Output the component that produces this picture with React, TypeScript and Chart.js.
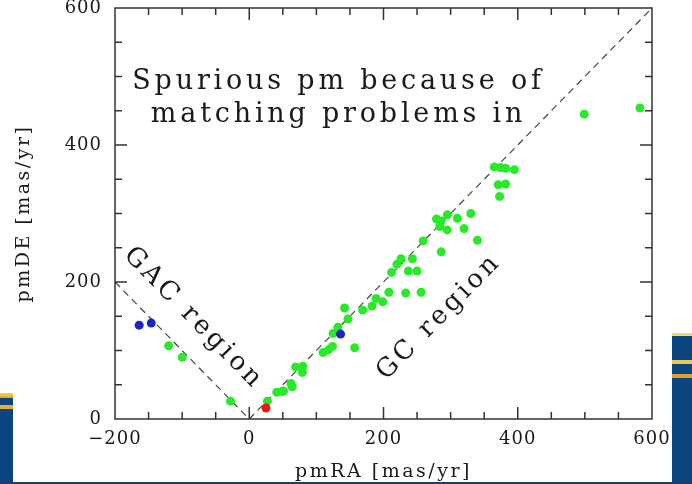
import React, { useEffect, useRef } from "react";
import { Chart, registerables } from "chart.js";

Chart.register(...registerables);

// ---- data ----
const X_MIN = -200;
const X_MAX = 600;
const Y_MIN = 0;
const Y_MAX = 600;
const MAJOR_STEP = 200;
const MINOR_STEP = 50;

const xTickValues = [-200, 0, 200, 400, 600];
const yTickValues = [0, 200, 400, 600];

const xTitle = "pmRA [mas/yr]";
const yTitle = "pmDE [mas/yr]";

const greenPoints: [number, number][] = [
  [-120, 107], [-100, 90], [-28, 26],
  [27, 26], [41, 39], [49, 40], [51, 41], [62, 52], [64, 47],
  [69, 76], [80, 77], [79, 68], [110, 97], [118, 101], [124, 106],
  [125, 125], [132, 134], [142, 162], [147, 146], [157, 104],
  [169, 159], [183, 165], [189, 176], [199, 171], [208, 185],
  [212, 214], [220, 226], [226, 234], [233, 184], [237, 216],
  [243, 234], [250, 216], [256, 185], [259, 260], [279, 292],
  [286, 289], [284, 281], [286, 244], [295, 298], [295, 276],
  [310, 293], [320, 278], [330, 300], [340, 261], [365, 368],
  [374, 367], [382, 366], [395, 364], [371, 342], [382, 343],
  [373, 325], [499, 445], [582, 454],
];
const bluePoints: [number, number][] = [[-164, 137], [-146, 140], [136, 124]];
const redPoints: [number, number][] = [[25, 16]];

const gacLine: [number, number][] = [[-200, 200], [0, 0]];
const gcLine: [number, number][] = [[0, 0], [600, 600]];

const noteLines = ["Spurious pm because of", "matching problems in"];
const noteX = 133;
const noteBaselines = [482, 434];
const gacLabel = { text: "GAC region", x: -83, y: 147 };
const gcLabel = { text: "GC region", x: 283, y: 149 };

// ---- styles ----
const FONT = "'DejaVu Serif', serif";
const INK = "#1a1a1a";
const FRAME = "#333333";

const toXY = (arr: [number, number][]) => arr.map(([x, y]) => ({ x, y }));
const fmt = (v: number) => (v < 0 ? "\u2212" + Math.abs(v) : String(v));

const framePlugin = {
  id: "frame",
  beforeDraw(chart: any) {
    chart.ctx.letterSpacing = "2.5px";
  },
  beforeDatasetsDraw(chart: any) {
    chart.ctx.letterSpacing = "0px";
  },
  afterDatasetsDraw(chart: any) {
    chart.ctx.letterSpacing = "1px";
  },
  afterDraw(chart: any) {
    const { ctx, chartArea: a, scales } = chart;
    const xs = scales.x;
    const ys = scales.y;
    ctx.save();
    ctx.letterSpacing = "0px";
    ctx.strokeStyle = FRAME;
    ctx.lineWidth = 1.5;
    ctx.beginPath();
    ctx.rect(a.left, a.top, a.right - a.left, a.bottom - a.top);
    for (let v = X_MIN; v <= X_MAX; v += MINOR_STEP) {
      const p = xs.getPixelForValue(v);
      const len = v % MAJOR_STEP === 0 ? 12 : 7;
      ctx.moveTo(p, a.bottom);
      ctx.lineTo(p, a.bottom - len);
      ctx.moveTo(p, a.top);
      ctx.lineTo(p, a.top + len);
    }
    for (let v = Y_MIN; v <= Y_MAX; v += MINOR_STEP) {
      const p = ys.getPixelForValue(v);
      const len = v % MAJOR_STEP === 0 ? 12 : 7;
      ctx.moveTo(a.left, p);
      ctx.lineTo(a.left + len, p);
      ctx.moveTo(a.right, p);
      ctx.lineTo(a.right - len, p);
    }
    ctx.stroke();

    ctx.fillStyle = INK;
    ctx.font = `27px ${FONT}`;
    ctx.letterSpacing = "3.8px";
    ctx.textAlign = "center";
    ctx.textBaseline = "alphabetic";
    noteLines.forEach((t, i) => {
      ctx.fillText(t, xs.getPixelForValue(noteX), ys.getPixelForValue(noteBaselines[i]));
    });

    ctx.font = `26px ${FONT}`;
    ctx.letterSpacing = "3.5px";
    const drawRot = (lab: { text: string; x: number; y: number }, line: [number, number][]) => {
      const dx = xs.getPixelForValue(line[1][0]) - xs.getPixelForValue(line[0][0]);
      const dy = ys.getPixelForValue(line[1][1]) - ys.getPixelForValue(line[0][1]);
      ctx.save();
      ctx.translate(xs.getPixelForValue(lab.x), ys.getPixelForValue(lab.y));
      ctx.rotate(Math.atan2(dy, dx));
      ctx.textBaseline = "middle";
      ctx.fillText(lab.text, 0, 0);
      ctx.restore();
    };
    drawRot(gacLabel, gacLine);
    drawRot(gcLabel, gcLine);
    ctx.restore();
  },
};

export default function App() {
  const ref = useRef<HTMLCanvasElement>(null);
  useEffect(() => {
    const pointDs = (data: [number, number][], color: string) => ({
      type: "scatter" as const,
      data: toXY(data),
      backgroundColor: color,
      borderWidth: 0,
      pointRadius: 4.5,
      pointHoverRadius: 4.5,
    });
    const lineDs = (data: [number, number][]) => ({
      type: "scatter" as const,
      data: toXY(data),
      showLine: true,
      borderColor: "#444444",
      borderWidth: 1.2,
      borderDash: [7, 5],
      pointRadius: 0,
      fill: false,
    });
    const chart = new Chart(ref.current!, {
      type: "scatter",
      data: {
        datasets: [
          pointDs(redPoints, "#e41a1a"),
          pointDs(bluePoints, "#1a22cc"),
          pointDs(greenPoints, "#28ea28"),
          lineDs(gacLine),
          lineDs(gcLine),
        ] as any,
      },
      options: {
        responsive: false,
        animation: false,
        devicePixelRatio: 1,
        layout: { padding: { top: 8, right: 40, left: 0, bottom: 0 } },
        plugins: { legend: { display: false }, tooltip: { enabled: false } },
        scales: {
          x: {
            type: "linear",
            min: X_MIN,
            max: X_MAX,
            grid: { display: false, drawTicks: false },
            border: { display: false },
            afterBuildTicks: (s: any) => {
              s.ticks = xTickValues.map((v) => ({ value: v }));
            },
            afterFit: (s: any) => {
              s.height = 65;
              s.paddingLeft = 0;
              s.paddingRight = 0;
            },
            ticks: {
              z: 1,
              padding: 10,
              autoSkip: false,
              maxRotation: 0,
              color: INK,
              font: { family: FONT, size: 18 },
              callback: (v: any) => fmt(Number(v)),
            },
            title: {
              display: true,
              text: xTitle,
              color: INK,
              font: { family: FONT, size: 19 },
              padding: { top: 0, bottom: 1 },
            },
          },
          y: {
            type: "linear",
            min: Y_MIN,
            max: Y_MAX,
            grid: { display: false, drawTicks: false },
            border: { display: false },
            afterBuildTicks: (s: any) => {
              s.ticks = yTickValues.map((v) => ({ value: v }));
            },
            afterFit: (s: any) => {
              s.width = 115;
              s.paddingTop = 0;
              s.paddingBottom = 0;
            },
            ticks: {
              z: 1,
              padding: 13,
              autoSkip: false,
              color: INK,
              font: { family: FONT, size: 18 },
              callback: (v: any) => fmt(Number(v)),
            },
            title: {
              display: true,
              text: yTitle,
              color: INK,
              font: { family: FONT, size: 19 },
              padding: { top: 13, bottom: 0 },
            },
          },
        },
      } as any,
      plugins: [framePlugin],
    });
    return () => chart.destroy();
  }, []);

  return (
    <div
      style={{
        position: "fixed",
        left: 0,
        top: 0,
        width: 692,
        height: 484,
        background: "#ffffff",
        overflow: "hidden",
      }}
    >
      <div style={{ position: "absolute", left: 0, top: 393, width: 13, height: 91, background: "#0b4680" }} />
      <div style={{ position: "absolute", left: 0, top: 393, width: 13, height: 5, background: "linear-gradient(#f4dc48,#e0a028)" }} />
      <div style={{ position: "absolute", left: 0, top: 405, width: 13, height: 4, background: "#e8b038" }} />
      <div style={{ position: "absolute", left: 672, top: 333, width: 20, height: 151, background: "#0b4680" }} />
      <div style={{ position: "absolute", left: 672, top: 333, width: 20, height: 3, background: "#e8dc70" }} />
      <div style={{ position: "absolute", left: 672, top: 360, width: 20, height: 4, background: "#e6cc50" }} />
      <div style={{ position: "absolute", left: 672, top: 374, width: 20, height: 4, background: "#e0a030" }} />
      <div style={{ position: "absolute", left: 0, top: 482, width: 692, height: 2, background: "#153f74" }} />
      <canvas
        ref={ref}
        width={692}
        height={484}
        style={{ position: "absolute", left: 0, top: 0, width: 692, height: 484 }}
      />
    </div>
  );
}
